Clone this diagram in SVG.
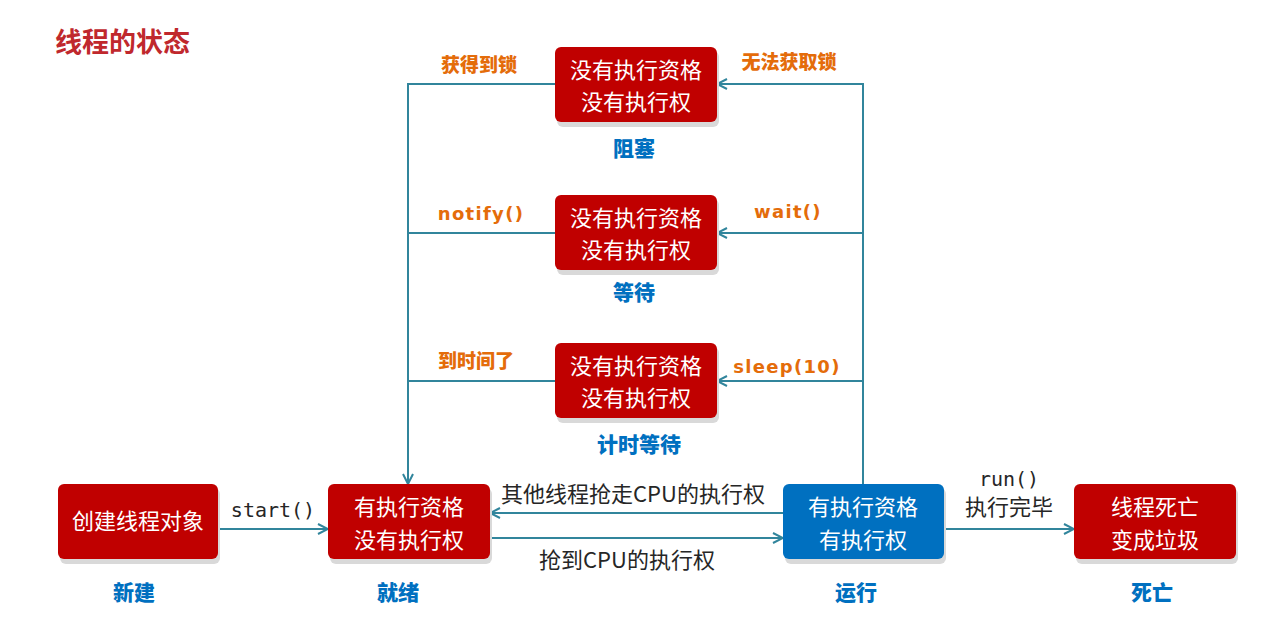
<svg xmlns="http://www.w3.org/2000/svg" width="1275" height="621" viewBox="0 0 1275 621">
<defs>
<marker id="arr" viewBox="0 0 12 12" refX="11" refY="6" markerWidth="12" markerHeight="12" markerUnits="userSpaceOnUse" orient="auto">
<path d="M1,1 L11,6 L1,11" fill="none" stroke="#31859c" stroke-width="2"/>
</marker>
<style>
.box{fill:#c00000;}
.run{fill:#0070c0;}
.sh{fill:#d9d9d9;}
.bt{font-family:"Noto Sans CJK SC","Noto Sans",sans-serif;font-size:22px;fill:#ffffff;text-anchor:middle;}
.lb{font-family:"Noto Sans CJK SC","Noto Sans",sans-serif;font-size:21px;font-weight:900;fill:#0070c0;text-anchor:middle;}
.or{font-family:"Noto Sans CJK SC","Noto Sans",sans-serif;font-size:19px;font-weight:900;fill:#e46c0a;text-anchor:middle;}
.orl{font-family:"DejaVu Sans","Noto Sans",sans-serif;font-size:18px;font-weight:bold;fill:#e46c0a;text-anchor:middle;letter-spacing:1.3px;}
.tx{font-family:"Noto Sans CJK SC","Noto Sans",sans-serif;font-size:22px;fill:#262626;text-anchor:middle;}
.mono{font-family:"DejaVu Sans Mono","Liberation Mono",monospace;font-size:20px;fill:#262626;text-anchor:middle;}
.ln{fill:none;stroke:#31859c;stroke-width:2;}
</style>
</defs>
<rect width="1275" height="621" fill="#ffffff"/>
<text x="55" y="52" style="font-family:'Noto Sans CJK SC',sans-serif;font-size:27px;font-weight:bold;fill:#c0282d;">线程的状态</text>

<g id="connectors">
<polyline class="ln" points="555,84 408,84 408,484" marker-end="url(#arr)"/>
<line class="ln" x1="555" y1="233" x2="408" y2="233"/>
<line class="ln" x1="555" y1="381" x2="408" y2="381"/>
<polyline class="ln" points="863,484 863,84 717,84" marker-end="url(#arr)"/>
<line class="ln" x1="863" y1="233" x2="717" y2="233" marker-end="url(#arr)"/>
<line class="ln" x1="863" y1="381" x2="717" y2="381" marker-end="url(#arr)"/>
<line class="ln" x1="218" y1="529" x2="328" y2="529" marker-end="url(#arr)"/>
<line class="ln" x1="783" y1="513" x2="490" y2="513" marker-end="url(#arr)"/>
<line class="ln" x1="490" y1="538" x2="783" y2="538" marker-end="url(#arr)"/>
<line class="ln" x1="944" y1="529" x2="1074" y2="529" marker-end="url(#arr)"/>
<text class="or" x="479" y="72">获得到锁</text>
<text class="or" x="789" y="69">无法获取锁</text>
<text class="orl" x="481" y="220">notify()</text>
<text class="orl" x="788" y="218">wait()</text>
<text class="or" x="476" y="368">到时间了</text>
<text class="orl" x="787" y="373">sleep(10)</text>
<text class="mono" x="273" y="517">start()</text>
<text class="tx" x="633" y="502">其他线程抢走CPU的执行权</text>
<text class="tx" x="627" y="568">抢到CPU的执行权</text>
<text class="mono" x="1009" y="486">run()</text>
<text class="tx" x="1009" y="515">执行完毕</text>
</g>

<g id="blocked">
<rect class="sh" x="557" y="51" width="162" height="76" rx="6"/>
<rect class="box" x="555" y="47" width="162" height="75" rx="6"/>
<text class="bt" x="636" y="78">没有执行资格</text>
<text class="bt" x="636" y="110">没有执行权</text>
<text class="lb" x="634" y="156">阻塞</text>
</g>
<g id="waiting">
<rect class="sh" x="557" y="199" width="162" height="76" rx="6"/>
<rect class="box" x="555" y="195" width="162" height="75" rx="6"/>
<text class="bt" x="636" y="226">没有执行资格</text>
<text class="bt" x="636" y="258">没有执行权</text>
<text class="lb" x="634" y="300">等待</text>
</g>
<g id="timed-waiting">
<rect class="sh" x="557" y="347" width="162" height="76" rx="6"/>
<rect class="box" x="555" y="343" width="162" height="75" rx="6"/>
<text class="bt" x="636" y="374">没有执行资格</text>
<text class="bt" x="636" y="406">没有执行权</text>
<text class="lb" x="639" y="452">计时等待</text>
</g>
<g id="new">
<rect class="sh" x="60" y="488" width="160" height="76" rx="6"/>
<rect class="box" x="58" y="484" width="160" height="75" rx="6"/>
<text class="bt" x="138" y="529">创建线程对象</text>
<text class="lb" x="134" y="600">新建</text>
</g>
<g id="ready">
<rect class="sh" x="330" y="488" width="162" height="76" rx="6"/>
<rect class="box" x="328" y="484" width="162" height="75" rx="6"/>
<text class="bt" x="409" y="515">有执行资格</text>
<text class="bt" x="409" y="548">没有执行权</text>
<text class="lb" x="398" y="600">就绪</text>
</g>
<g id="running">
<rect class="sh" x="785" y="488" width="161" height="76" rx="6"/>
<rect class="run" x="783" y="484" width="161" height="75" rx="6"/>
<text class="bt" x="863" y="515">有执行资格</text>
<text class="bt" x="863" y="548">有执行权</text>
<text class="lb" x="856" y="600">运行</text>
</g>
<g id="dead">
<rect class="sh" x="1076" y="488" width="162" height="76" rx="6"/>
<rect class="box" x="1074" y="484" width="162" height="75" rx="6"/>
<text class="bt" x="1155" y="515">线程死亡</text>
<text class="bt" x="1155" y="548">变成垃圾</text>
<text class="lb" x="1152" y="600">死亡</text>
</g>
</svg>
